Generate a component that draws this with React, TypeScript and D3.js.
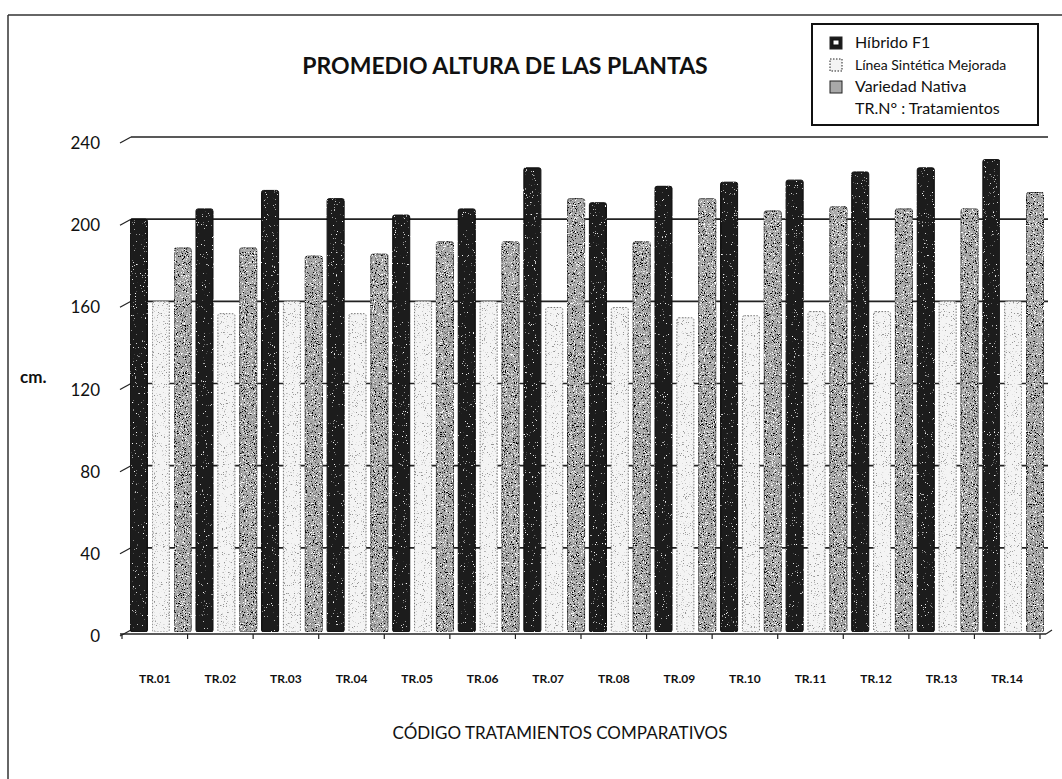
import React from "react";
import * as d3 from "d3";

const categories = ["TR.01","TR.02","TR.03","TR.04","TR.05","TR.06","TR.07","TR.08","TR.09","TR.10","TR.11","TR.12","TR.13","TR.14"];
const seriesNames = ["Híbrido F1", "Línea Sintética Mejorada", "Variedad Nativa"];
const hibrido = [200, 205, 214, 210, 202, 205, 225, 208, 216, 218, 219, 223, 225, 229];
const linea = [160, 154, 160, 154, 160, 160, 157, 157, 152, 153, 155, 155, 160, 160];
const nativa = [186, 186, 182, 183, 189, 189, 210, 189, 210, 204, 206, 205, 205, 213];
const yTicks = [0, 40, 80, 120, 160, 200, 240];

const W = 1062, H = 779;
const FONT = "Lato, 'Open Sans', sans-serif";

const seriesStyle = [
  { fill: "#1a1a1a", stroke: "#111", filter: "url(#speckWhite)", dash: "" },
  { fill: "#f4f4f4", stroke: "#777", filter: "url(#speckBlackLight)", dash: "1.5 1.5" },
  { fill: "#a9a9a9", stroke: "#555", filter: "url(#speckBlack)", dash: "" },
];

export default function App() {
  const x = d3.scaleBand<string>().domain(categories).range([122, 1040]).padding(0);
  const inner = d3.scaleBand<number>().domain([0, 1, 2]).range([6, 6 + x.bandwidth()]).paddingInner(0.22).paddingOuter(0.11);
  const y = d3.scaleLinear().domain([0, 240]).range([630, 137]);
  const values = [hibrido, linea, nativa];
  const tickXs = d3.range(categories.length + 1).map((i) => 122 + i * x.step());

  return (
    <svg width={W} height={H} style={{ position: "absolute", left: 0, top: 0, background: "#fff" }}>
      <defs>
        <filter id="speckWhite" x="0" y="0" width="1" height="1">
          <feTurbulence type="fractalNoise" baseFrequency="0.9" numOctaves="2" seed="4" result="n" />
          <feColorMatrix in="n" type="matrix" values="0 0 0 0 1  0 0 0 0 1  0 0 0 0 1  9 0 0 0 -6.3" result="s" />
          <feComposite in="s" in2="SourceGraphic" operator="in" result="sc" />
          <feMerge><feMergeNode in="SourceGraphic" /><feMergeNode in="sc" /></feMerge>
        </filter>
        <filter id="speckBlack" x="0" y="0" width="1" height="1">
          <feTurbulence type="fractalNoise" baseFrequency="0.9" numOctaves="2" seed="7" result="n" />
          <feColorMatrix in="n" type="matrix" values="0 0 0 0 0  0 0 0 0 0  0 0 0 0 0  9 0 0 0 -5.0" result="s" />
          <feComposite in="s" in2="SourceGraphic" operator="in" result="sc" />
          <feTurbulence type="fractalNoise" baseFrequency="0.9" numOctaves="2" seed="11" result="n2" />
          <feColorMatrix in="n2" type="matrix" values="0 0 0 0 1  0 0 0 0 1  0 0 0 0 1  9 0 0 0 -5.4" result="w" />
          <feComposite in="w" in2="SourceGraphic" operator="in" result="wc" />
          <feMerge><feMergeNode in="SourceGraphic" /><feMergeNode in="sc" /><feMergeNode in="wc" /></feMerge>
        </filter>
        <filter id="speckBlackLight" x="0" y="0" width="1" height="1">
          <feTurbulence type="fractalNoise" baseFrequency="0.9" numOctaves="2" seed="2" result="n" />
          <feColorMatrix in="n" type="matrix" values="0 0 0 0 0.3  0 0 0 0 0.3  0 0 0 0 0.3  9 0 0 0 -5.7" result="s" />
          <feComposite in="s" in2="SourceGraphic" operator="in" result="sc" />
          <feMerge><feMergeNode in="SourceGraphic" /><feMergeNode in="sc" /></feMerge>
        </filter>
      </defs>

      {/* outer frame */}
      <line x1={8} y1={15} x2={W} y2={15} stroke="#333" strokeWidth={1.5} />
      <line x1={8} y1={15} x2={8} y2={H} stroke="#333" strokeWidth={1.5} />

      {/* title */}
      <text x={505} y={74} textAnchor="middle" fontFamily={FONT} fontWeight="bold" fontSize={23} fill="#111">
        PROMEDIO ALTURA DE LAS PLANTAS
      </text>

      {/* gridlines */}
      {yTicks.map((t) => (
        <g key={t}>
          {t > 0 && <line x1={131} y1={y(t)} x2={1048} y2={y(t)} stroke="#222" strokeWidth={1.6} />}
          <line x1={120} y1={y(t) + 6} x2={131} y2={y(t)} stroke="#222" strokeWidth={1.2} />
          <text x={100} y={y(t) + 12} textAnchor="end" fontFamily={FONT} fontSize={17} fill="#111">{t}</text>
        </g>
      ))}

      {/* bars */}
      {values.map((vals, si) => (
        <g key={si} filter={seriesStyle[si].filter}>
          {categories.map((c, i) => {
            const bx = (x(c) as number) + (inner(si) as number);
            const top = y(vals[i]);
            return (
              <rect key={c} x={bx} y={top} width={inner.bandwidth()} height={y(0) - top + 2}
                rx={2} fill={seriesStyle[si].fill} stroke={seriesStyle[si].stroke}
                strokeWidth={1} strokeDasharray={seriesStyle[si].dash} />
            );
          })}
        </g>
      ))}

      {/* x axis (floor front edge) */}
      <line x1={120} y1={634} x2={1046} y2={634} stroke="#222" strokeWidth={1.6} />
      <line x1={1046} y1={634} x2={1052} y2={630} stroke="#222" strokeWidth={1.2} />
      {tickXs.map((tx, i) => (
        <line key={i} x1={tx} y1={634} x2={tx} y2={639} stroke="#222" strokeWidth={1.2} />
      ))}
      {categories.map((c) => (
        <text key={c} x={(x(c) as number) + x.bandwidth() / 2} y={683} textAnchor="middle"
          fontFamily={FONT} fontWeight="bold" fontSize={12} fill="#111">{c}</text>
      ))}

      {/* axis titles */}
      <text x={20} y={383} fontFamily={FONT} fontWeight="bold" fontSize={17} fill="#111">cm.</text>
      <text x={560} y={739} textAnchor="middle" fontFamily={FONT} fontSize={17} fill="#111">
        CÓDIGO TRATAMIENTOS COMPARATIVOS
      </text>

      {/* legend */}
      <rect x={812} y={24} width={226} height={101} fill="#fff" stroke="#111" strokeWidth={2} />
      {seriesNames.map((n, i) => {
        const ly = 43 + i * 22;
        return (
          <g key={n}>
            <rect x={830} y={ly - 6} width={12} height={12} fill={seriesStyle[i].fill}
              stroke="#222" strokeWidth={1} strokeDasharray={seriesStyle[i].dash} />
            {i === 0 && <rect x={833} y={ly - 3} width={6} height={5} fill="#fff" stroke="#111" strokeWidth={1} />}
            <text x={855} y={ly + 5} fontFamily={FONT} fontSize={i === 1 ? 14 : 16} fill="#111">{n}</text>
          </g>
        );
      })}
      <text x={855} y={114} fontFamily={FONT} fontSize={16} fill="#111">TR.N° : Tratamientos</text>
    </svg>
  );
}
